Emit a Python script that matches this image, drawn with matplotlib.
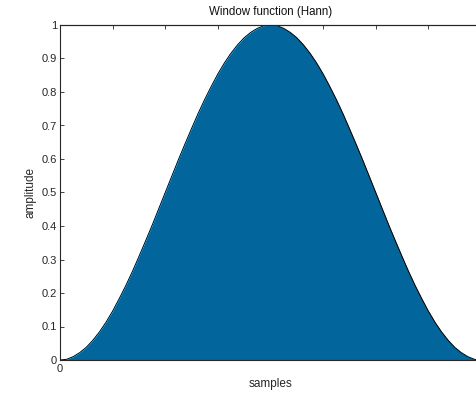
import matplotlib
matplotlib.use("Agg")
import matplotlib.pyplot as plt

# Hann window values (65 samples, 0..N)
amplitude = [0.000, 0.002, 0.010, 0.022, 0.038, 0.059, 0.084, 0.113, 0.146, 0.183,
             0.222, 0.264, 0.309, 0.355, 0.402, 0.451, 0.500, 0.549, 0.598, 0.645,
             0.691, 0.736, 0.778, 0.817, 0.854, 0.887, 0.916, 0.941, 0.962, 0.978,
             0.990, 0.998, 1.000, 0.998, 0.990, 0.978, 0.962, 0.941, 0.916, 0.887,
             0.854, 0.817, 0.778, 0.736, 0.691, 0.645, 0.598, 0.549, 0.500, 0.451,
             0.402, 0.355, 0.309, 0.264, 0.222, 0.183, 0.146, 0.113, 0.084, 0.059,
             0.038, 0.022, 0.010, 0.002, 0.000]
samples = list(range(len(amplitude)))
N = samples[-1]
xtick_pos = [0, N]
xtick_labels = ["0", "N"]
top_ticks = [N * k / 8 for k in range(1, 8)]
ytick_vals = [0, 0.1, 0.2, 0.3, 0.4, 0.5, 0.6, 0.7, 0.8, 0.9, 1]
ytick_labels = ["0", "0.1", "0.2", "0.3", "0.4", "0.5", "0.6", "0.7", "0.8", "0.9", "1"]

plt.rcParams['font.family'] = ['Liberation Sans', 'DejaVu Sans']

fig = plt.figure(figsize=(4.77, 3.94), dpi=100)
W, H = 477, 394
left, right, top, bottom = 60, 481, 25, 360
ax = fig.add_axes([left / W, (H - bottom) / H, (right - left) / W, (bottom - top) / H])

ax.fill_between(samples, amplitude, 0, color="#02659b", linewidth=0)
ax.plot(samples, amplitude, color="black", linewidth=0.7)

ax.set_xlim(0, N)
ax.set_ylim(0, 1)
ax.set_xticks(xtick_pos)
ax.set_xticklabels(xtick_labels)
ax.set_yticks(ytick_vals)
ax.set_yticklabels(ytick_labels)
ax.tick_params(direction="in", length=3, width=0.6, labelsize=8, colors="#262626",
               pad=2, right=True)
ax.tick_params(axis="x", length=0, pad=3)

ax2 = ax.secondary_xaxis("top")
ax2.set_xticks(top_ticks)
ax2.set_xticklabels([])
ax2.tick_params(direction="in", length=3, width=0.6, colors="#262626")
ax2.spines["top"].set_linewidth(0.8)
ax2.spines["top"].set_color("#262626")

for s in ax.spines.values():
    s.set_linewidth(0.8)
    s.set_color("#262626")

ax.set_title("Window function (Hann)", fontsize=8.3, pad=7, color="#111111")
ax.set_xlabel("samples", fontsize=8.5, labelpad=3, color="#262626")
ax.set_ylabel("amplitude", fontsize=8.5, labelpad=4, color="#262626")

fig.savefig("out.png", dpi=100)
